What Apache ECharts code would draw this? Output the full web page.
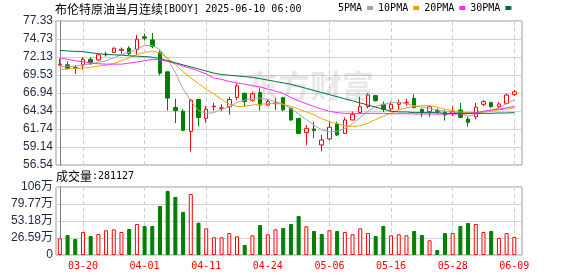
<!DOCTYPE html>
<html><head><meta charset="utf-8">
<script src="https://cdn.jsdelivr.net/npm/echarts@6/dist/echarts.min.js"></script>
<style>html,body{margin:0;padding:0;background:#fff}#c{width:578px;height:276px}</style>
</head><body><div id="c"></div>
<script>
const dates = ['03-17','03-18','03-19','03-20','03-21','03-24','03-25','03-26','03-27','03-28',
'03-31','04-01','04-02','04-03','04-04','04-07','04-08','04-09','04-10','04-11',
'04-14','04-15','04-16','04-17','04-21','04-22','04-23','04-24','04-25','04-28',
'04-29','04-30','05-01','05-02','05-05','05-06','05-07','05-08','05-09','05-12',
'05-13','05-14','05-15','05-16','05-19','05-20','05-21','05-22','05-23','05-26',
'05-27','05-28','05-29','05-30','06-02','06-03','06-04','06-05','06-06','06-09'];
const openP = [71.0,71.0,70.6,71.0,71.8,71.7,72.45,72.8,73.1,73.4,
73.2,75.05,74.6,72.8,70.0,64.85,64.3,61.4,66.0,63.28,
64.95,64.7,64.96,66.3,66.9,65.9,67.0,65.2,65.4,66.26,
64.72,63.28,61.21,61.74,59.43,60.3,62.46,61.11,63.04,64.1,
64.96,66.55,65.3,64.63,65.3,65.5,66.17,64.58,64.24,64.4,
64.1,64.0,64.48,63.18,63.5,65.3,65.54,64.96,65.44,66.74];
const closeP = [71.1,70.5,70.5,71.8,71.25,72.45,72.55,73.4,73.25,72.6,
74.7,74.85,73.65,69.8,66.2,64.4,61.55,65.9,63.4,64.58,
65.05,64.8,66.0,67.95,65.7,66.8,65.2,65.68,65.5,64.5,
63.05,61.1,61.83,61.5,60.15,62.0,60.87,63.04,63.86,64.96,
66.65,65.83,64.58,65.3,65.54,65.58,64.82,64.1,64.96,64.3,
63.76,64.24,63.42,62.7,64.9,65.68,64.96,65.35,66.65,67.1];
const lowP = [70.9,70.3,69.7,70.3,71.0,71.6,72.2,72.7,72.6,72.4,
72.4,74.5,73.4,69.5,64.4,62.6,61.4,58.5,62.1,62.65,
64.4,64.3,63.8,65.9,64.96,65.7,64.4,65.1,64.5,64.3,
62.9,61.0,59.43,60.4,58.5,60.1,60.7,61.0,63.0,64.0,
64.7,65.7,64.2,64.2,64.5,65.1,64.7,63.5,63.5,63.9,
62.94,63.6,63.3,62.07,63.13,65.0,64.8,64.7,65.3,66.5];
const highP = [71.9,71.5,71.0,72.1,72.1,72.55,72.9,73.5,73.5,73.7,
75.3,75.5,75.6,73.1,70.05,66.1,64.6,66.1,66.05,65.06,
65.5,65.3,66.4,68.3,66.95,67.13,67.6,66.0,66.2,66.3,
64.8,63.3,62.3,62.8,60.9,62.8,62.8,63.4,64.24,66.4,
66.9,66.65,65.7,65.7,66.0,66.1,66.74,64.72,65.1,64.72,
64.5,65.0,65.5,63.5,65.5,65.9,65.7,65.6,66.85,67.37];
const ma5 = [70.7,70.8,70.8,71.0,71.1,71.35,71.6,72.0,72.5,72.8,
73.3,73.8,73.8,73.2,71.8,69.9,67.5,65.8,64.4,64.0,
64.1,64.6,64.9,65.6,65.9,66.2,66.2,66.0,65.7,65.3,
64.7,63.9,63.1,62.3,61.6,61.35,61.4,61.8,62.5,63.4,
64.3,65.0,65.3,65.5,65.6,65.4,65.1,64.9,64.7,64.5,
64.3,64.2,64.0,63.6,63.8,64.2,64.4,64.8,65.4,65.95];
const ma10 = [70.3,70.4,70.5,70.55,70.65,70.8,70.95,71.2,71.6,72.0,
72.5,72.8,73.0,72.7,72.0,71.0,70.0,69.1,68.3,67.5,
66.8,66.0,65.3,65.0,65.0,65.2,65.3,65.4,65.45,65.3,
65.0,64.6,64.2,63.8,63.2,62.8,62.5,62.2,62.1,62.2,
62.6,63.1,63.6,64.0,64.5,64.8,65.0,65.1,65.1,64.9,
64.6,64.4,64.2,64.1,64.1,64.2,64.3,64.5,64.6,64.8];
const ma20 = [72.0,71.8,71.6,71.45,71.3,71.15,71.1,71.1,71.1,71.25,
71.4,71.6,71.8,71.7,71.5,71.2,70.8,70.5,70.1,69.7,
69.1,68.9,68.6,68.4,68.2,68.0,67.8,67.5,67.2,66.9,
66.3,65.8,65.4,65.0,64.6,64.3,64.1,64.0,64.0,64.0,
64.0,64.0,64.0,63.95,63.95,63.95,63.9,63.9,63.9,63.9,
63.9,63.9,63.9,63.95,64.1,64.3,64.5,64.6,64.8,65.0];
const ma30 = [73.1,73.0,72.95,72.9,72.75,72.6,72.5,72.45,72.4,72.3,
72.25,72.2,72.1,71.9,71.6,71.3,71.0,70.7,70.4,70.1,
69.8,69.6,69.5,69.4,69.3,69.2,69.0,68.8,68.6,68.4,
68.2,67.9,67.6,67.3,67.0,66.7,66.4,66.1,65.8,65.5,
65.2,64.9,64.6,64.3,64.2,64.2,64.1,64.1,64.1,64.1,
64.0,64.0,64.0,64.0,64.0,64.0,64.0,64.05,64.05,64.1];
const volume = [261000,313000,250000,360000,297000,328000,386000,402000,360000,407000,
485000,454000,454000,766000,1001000,907000,673000,954000,505000,417000,
277000,277000,344000,292000,156000,308000,469000,324000,402000,422000,
485000,610000,449000,375000,328000,386000,375000,360000,324000,417000,
344000,297000,454000,308000,324000,308000,375000,313000,230000,78000,
344000,344000,454000,500000,485000,360000,375000,266000,344000,281127];
// 1 = red hollow volume bar, 0 = green filled
const volUp = [1,0,0,1,0,1,1,1,1,0,
1,0,0,0,0,0,0,1,0,1,
1,1,1,1,0,1,0,1,1,0,
0,0,1,0,0,1,0,1,1,1,
1,0,0,1,1,1,0,0,1,0,
0,1,0,0,1,1,0,1,1,1];
const xLabelIdx = [3,11,19,27,35,43,51,59];
const priceTicks = ['56.54','59.14','61.74','64.34','66.94','69.53','72.13','74.73','77.33'];
const volTicks = ['0','26.59万','53.18万','79.77万','106万'];
const maNames = ['5PMA','10PMA','20PMA','30PMA'];

const P_MIN = 56.54, P_MAX = 77.33, P_STEP = (P_MAX - P_MIN) / 8;
const V_MAX = 1063600, V_STEP = V_MAX / 4;
const maColors = ['#a6a6a6', '#f2a400', '#ff2cff', '#00703a'];
const UP = '#ff0000', DOWN = '#008000';
const labelColor = '#1e2940';

const chart = echarts.init(document.getElementById('c'));
const idx = dates.map((d, i) => i);
const maData = [ma5, ma10, ma20, ma30];

const xCommon = {
  type: 'value', min: -0.5, max: 60,
  axisLine: {show: false},
  axisTick: {show: false, customValues: xLabelIdx},
  splitLine: {show: true, lineStyle: {color: '#cfcfcf', type: [4, 3], width: 1}}
};
const richTitle = {
  c: {fontFamily: 'Noto Sans CJK SC', fontSize: 12, fontWeight: 'normal', color: '#000', lineHeight: 14},
  a: {fontFamily: 'DejaVu Sans Mono', fontSize: 10, fontWeight: 'normal', color: '#000', lineHeight: 14}
};

chart.setOption({
  animation: false,
  title: [{
    text: '{c|布伦特原油当月连续}{a|[BOOY] 2025-06-10 06:00}',
    left: 55, top: 2, padding: 0,
    textStyle: {fontWeight: 'normal', rich: richTitle}
  }, {
    text: '{c|成交量}{a|:281127}',
    left: 56, top: 169.5, padding: 0,
    textStyle: {fontWeight: 'normal', rich: richTitle}
  }],
  legend: {
    data: maNames, left: 338, top: 3, padding: 0,
    align: 'right', icon: 'rect', itemWidth: 6, itemHeight: 4, itemGap: 5,
    selectedMode: false,
    textStyle: {fontFamily: 'DejaVu Sans Mono', fontSize: 10, color: '#000', padding: [0, 0, 0, 0]}
  },
  graphic: [{
    type: 'text', left: 246, top: 70, z: 1, silent: true,
    style: {text: '东方财富', fontFamily: 'Noto Sans CJK SC', fontWeight: 'bold', fontSize: 32, fill: 'rgba(0,0,0,0.09)'}
  }],
  grid: [
    {left: 56, top: 21, width: 466, height: 144, show: true, borderColor: '#999', borderWidth: 1, backgroundColor: 'transparent'},
    {left: 56, top: 187, width: 466, height: 68, show: true, borderColor: '#999', borderWidth: 1, backgroundColor: 'transparent'}
  ],
  xAxis: [
    Object.assign({}, xCommon, {gridIndex: 0, axisLabel: {show: false}}),
    Object.assign({}, xCommon, {gridIndex: 1, axisLabel: {
      show: true, customValues: xLabelIdx, color: '#ff0000', fontFamily: 'DejaVu Sans Mono', fontSize: 10, margin: 6,
      formatter: v => dates[Math.round(v)] || ''
    }})
  ],
  yAxis: [{
    gridIndex: 0, type: 'value', min: P_MIN, max: P_MAX, interval: P_STEP,
    axisLine: {show: true, lineStyle: {color: '#808080'}},
    axisTick: {show: false},
    axisLabel: {color: labelColor, fontFamily: 'Liberation Sans', fontSize: 12, margin: 3,
      formatter: v => priceTicks[Math.round((v - P_MIN) / P_STEP)] || ''},
    splitLine: {show: true, lineStyle: {color: '#d2d2d2', width: 1}}
  }, {
    gridIndex: 1, type: 'value', min: 0, max: V_MAX, interval: V_STEP,
    axisLine: {show: true, lineStyle: {color: '#808080'}},
    axisTick: {show: false},
    axisLabel: {color: labelColor, fontFamily: 'Liberation Sans, Noto Sans CJK SC', fontSize: 12, margin: 3,
      formatter: v => volTicks[Math.round(v / V_STEP)] || ''},
    splitLine: {show: true, lineStyle: {color: '#d2d2d2', width: 1}}
  }],
  series: [{
    type: 'candlestick', name: 'K', xAxisIndex: 0, yAxisIndex: 0, z: 2,
    dimensions: ['x', 'open', 'close', 'low', 'high'],
    encode: {x: 'x', y: ['open', 'close', 'low', 'high']},
    data: idx.map(i => [i, openP[i], closeP[i], lowP[i], highP[i]]),
    barWidth: 4,
    itemStyle: {color: '#ffffff', color0: DOWN, borderColor: UP, borderColor0: DOWN, borderWidth: 1},
    emphasis: {disabled: true}, silent: true
  }].concat(maNames.map((n, k) => ({
    type: 'line', name: n, xAxisIndex: 0, yAxisIndex: 0, z: 3,
    data: idx.map(i => [i, maData[k][i]]),
    showSymbol: false, symbol: 'none', silent: true,
    color: maColors[k],
    itemStyle: {color: maColors[k]},
    lineStyle: {color: maColors[k], width: 1}
  }))).concat([{
    type: 'bar', name: 'VOL', xAxisIndex: 1, yAxisIndex: 1, barWidth: 4, silent: true,
    data: idx.map(i => ({value: [i, volume[i]], itemStyle: volUp[i]
        ? {color: '#ffffff', borderColor: UP, borderWidth: 1}
        : {color: DOWN, borderColor: DOWN, borderWidth: 1}}))
  }])
});
</script>
</body></html>
